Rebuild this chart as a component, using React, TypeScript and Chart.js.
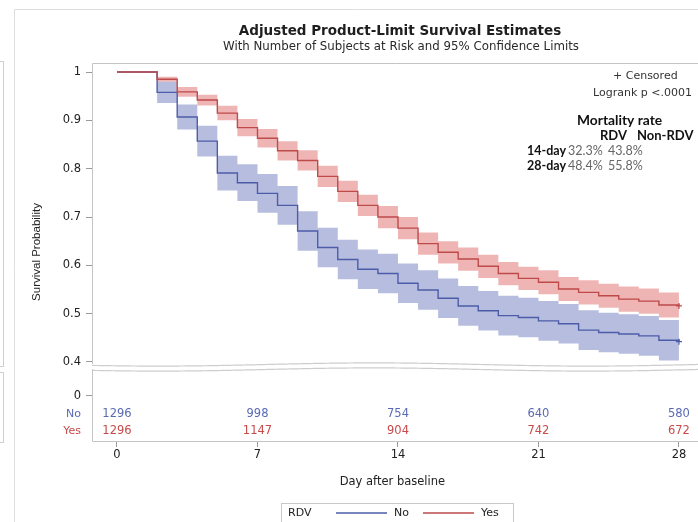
import React, { useEffect, useRef } from 'react';
import { Chart, registerables } from 'chart.js';

Chart.register(...registerables);

// ---------- data ----------
const days = [0, 1, 2, 3, 4, 5, 6, 7, 8, 9, 10, 11, 12, 13, 14, 15, 16, 17, 18, 19, 20, 21, 22, 23, 24, 25, 26, 27, 28];

// RDV = Yes (red)
const survYes = [1, 1, 0.985, 0.959, 0.942, 0.915, 0.885, 0.863, 0.837, 0.817, 0.784, 0.753, 0.724, 0.7, 0.677, 0.645, 0.627, 0.613, 0.598, 0.583, 0.573, 0.565, 0.551, 0.544, 0.537, 0.53, 0.526, 0.518, 0.516];
const lowerYes = [1, 1, 0.98, 0.949, 0.931, 0.9, 0.867, 0.844, 0.817, 0.796, 0.762, 0.731, 0.702, 0.677, 0.654, 0.622, 0.604, 0.589, 0.574, 0.559, 0.549, 0.54, 0.526, 0.519, 0.512, 0.504, 0.5, 0.492, 0.49];
const upperYes = [1, 1, 0.99, 0.969, 0.953, 0.93, 0.903, 0.882, 0.857, 0.838, 0.806, 0.775, 0.746, 0.723, 0.7, 0.668, 0.65, 0.637, 0.622, 0.607, 0.597, 0.59, 0.576, 0.569, 0.562, 0.556, 0.552, 0.544, 0.542];

// RDV = No (blue)
const survNo = [1, 1, 0.958, 0.907, 0.857, 0.791, 0.771, 0.749, 0.724, 0.671, 0.637, 0.612, 0.592, 0.583, 0.563, 0.549, 0.532, 0.516, 0.506, 0.496, 0.492, 0.485, 0.479, 0.466, 0.461, 0.458, 0.454, 0.445, 0.442];
const lowerNo = [1, 1, 0.936, 0.881, 0.825, 0.755, 0.733, 0.709, 0.684, 0.63, 0.596, 0.571, 0.551, 0.542, 0.522, 0.508, 0.491, 0.475, 0.465, 0.455, 0.451, 0.444, 0.438, 0.425, 0.42, 0.417, 0.413, 0.403, 0.4];
const upperNo = [1, 1, 0.98, 0.933, 0.889, 0.827, 0.809, 0.789, 0.764, 0.712, 0.678, 0.653, 0.633, 0.624, 0.604, 0.59, 0.573, 0.557, 0.547, 0.537, 0.533, 0.526, 0.52, 0.507, 0.502, 0.499, 0.495, 0.487, 0.484];

const xTickValues = [0, 7, 14, 21, 28];
const yTickValues = [0.4, 0.5, 0.6, 0.7, 0.8, 0.9, 1];

const riskTimes = [0, 7, 14, 21, 28];
const riskNo = [1296, 998, 754, 640, 580];
const riskYes = [1296, 1147, 904, 742, 672];

const mortalityLabels = ['14-day', '28-day'];
const mortalityRdv = ['32.3%', '48.4%'];
const mortalityNonRdv = ['43.8%', '55.8%'];

// ---------- layout / style ----------
const W = 698;
const H = 522;
const PLOT_LEFT = 92;
const PLOT_TOP = 63;
const UPPER_BOTTOM = 364;
const LOWER_TOP = 369;
const PLOT_BOTTOM = 441;
const X_MIN = -1.245;
const X_MAX = 28.69;
const Y_MIN = 0.2365;
const Y_MAX = 1.0187;
const ZERO_TICK = 0.33; // position of the "0" tick in the broken lower panel

const BLUE_LINE = '#4d5ca8';
const RED_LINE = '#be4a4a';
const BLUE_BAND = 'rgba(88,102,180,0.43)';
const RED_BAND = 'rgba(215,70,70,0.4)';
const BLUE_TEXT = '#5a6ab4';
const RED_TEXT = '#c84a4a';
const FRAME = '#c4c4c4';
const SANS = '"DejaVu Sans", sans-serif';

const pts = (vals: number[]) => days.map((d, i) => ({ x: d, y: vals[i] }));

function txt(ctx: CanvasRenderingContext2D, s: string, x: number, y: number, font: string, color: string, align: CanvasTextAlign = 'left') {
  ctx.font = font;
  ctx.fillStyle = color;
  ctx.textAlign = align;
  ctx.textBaseline = 'middle';
  ctx.fillText(s, x, y);
}

function wavy(ctx: CanvasRenderingContext2D, x0: number, x1: number, base: number) {
  ctx.beginPath();
  for (let x = x0; x <= x1; x += 2) {
    const y = base + 1.6 * Math.sin(((x - x0) / 430) * Math.PI * 2 + 0.6);
    if (x === x0) ctx.moveTo(x, y);
    else ctx.lineTo(x, y);
  }
  ctx.stroke();
}

const decorPlugin = {
  id: 'decor',
  beforeDraw(chart: any) {
    const ctx: CanvasRenderingContext2D = chart.ctx;
    ctx.save();
    // surrounding screenshot frame
    ctx.strokeStyle = '#dedede';
    ctx.lineWidth = 1;
    ctx.beginPath();
    ctx.moveTo(14.5, H);
    ctx.lineTo(14.5, 9.5);
    ctx.lineTo(W, 9.5);
    ctx.stroke();
    ctx.strokeStyle = '#cfcfcf';
    ctx.strokeRect(-6, 61.5, 9.5, 305);
    ctx.strokeRect(-6, 372.5, 9.5, 70);
    ctx.restore();
  },
  afterDraw(chart: any) {
    const ctx: CanvasRenderingContext2D = chart.ctx;
    const xs = chart.scales.x;
    ctx.save();

    // titles
    txt(ctx, 'Adjusted Product-Limit Survival Estimates', 400, 31, `bold 13.5px ${SANS}`, '#1e1e1e', 'center');
    txt(ctx, 'With Number of Subjects at Risk and 95% Confidence Limits', 401, 46.5, `11.8px ${SANS}`, '#2a2a2a', 'center');

    // frames
    ctx.strokeStyle = FRAME;
    ctx.lineWidth = 1;
    ctx.beginPath();
    ctx.moveTo(PLOT_LEFT + 0.5, UPPER_BOTTOM);
    ctx.lineTo(PLOT_LEFT + 0.5, PLOT_TOP + 0.5);
    ctx.lineTo(W, PLOT_TOP + 0.5);
    ctx.moveTo(PLOT_LEFT + 0.5, LOWER_TOP);
    ctx.lineTo(PLOT_LEFT + 0.5, PLOT_BOTTOM + 0.5);
    ctx.lineTo(W, PLOT_BOTTOM + 0.5);
    ctx.stroke();
    ctx.strokeStyle = '#cdcdcd';
    ctx.lineWidth = 1.2;
    wavy(ctx, PLOT_LEFT, W, UPPER_BOTTOM + 0.5);
    wavy(ctx, PLOT_LEFT, W, LOWER_TOP + 0.5);

    // risk table
    txt(ctx, 'No', 81, 414, `11px ${SANS}`, BLUE_TEXT, 'right');
    txt(ctx, 'Yes', 81, 431, `11px ${SANS}`, RED_TEXT, 'right');
    riskTimes.forEach((t, i) => {
      const px = xs.getPixelForValue(t);
      txt(ctx, String(riskNo[i]), px, 414, `11.5px ${SANS}`, BLUE_TEXT, 'center');
      txt(ctx, String(riskYes[i]), px, 431, `11.5px ${SANS}`, RED_TEXT, 'center');
    });

    // annotations
    txt(ctx, '+ Censored', 613, 76, `11px ${SANS}`, '#333', 'left');
    txt(ctx, 'Logrank p <.0001', 593, 93, `11px ${SANS}`, '#333', 'left');
    const LB = 'bold 12.5px Lato, sans-serif';
    const LR = '12.5px Lato, sans-serif';
    txt(ctx, 'Mortality rate', 577, 121, 'bold 13.8px Lato, sans-serif', '#111');
    txt(ctx, 'RDV', 600, 136, 'bold 13px Lato, sans-serif', '#111');
    txt(ctx, 'Non-RDV', 637, 136, 'bold 13px Lato, sans-serif', '#111');
    mortalityLabels.forEach((lab, i) => {
      const y = 151 + i * 15;
      txt(ctx, lab, 527, y, LB, '#111');
      txt(ctx, mortalityRdv[i], 568, y, LR, '#666');
      txt(ctx, mortalityNonRdv[i], 608, y, LR, '#666');
    });

    // legend
    ctx.strokeStyle = '#c8c8c8';
    ctx.lineWidth = 1;
    ctx.strokeRect(281.5, 503.5, 232, 30);
    txt(ctx, 'RDV', 288, 513, `11px ${SANS}`, '#222');
    ctx.lineWidth = 1.4;
    ctx.strokeStyle = BLUE_LINE;
    ctx.beginPath();
    ctx.moveTo(336, 513);
    ctx.lineTo(387, 513);
    ctx.stroke();
    txt(ctx, 'No', 394, 513, `11px ${SANS}`, '#222');
    ctx.strokeStyle = RED_LINE;
    ctx.beginPath();
    ctx.moveTo(423, 513);
    ctx.lineTo(474, 513);
    ctx.stroke();
    txt(ctx, 'Yes', 481, 513, `11px ${SANS}`, '#222');

    ctx.restore();
  },
};

const lastIdx = days.length - 1;

export default function App() {
  const ref = useRef<HTMLCanvasElement | null>(null);
  useEffect(() => {
    if (!ref.current) return;
    const tickFont = { family: '"DejaVu Sans", sans-serif', size: 11.5 };
    const chart = new Chart(ref.current, {
      type: 'line',
      data: {
        datasets: [
          {
            label: 'Yes',
            data: pts(survYes),
            borderColor: RED_LINE,
            borderWidth: 1.4,
            stepped: 'before',
            fill: false,
            pointRadius: (c: any) => (c.dataIndex === lastIdx ? 3 : 0),
            pointStyle: 'cross',
            pointBorderColor: RED_LINE,
            pointBorderWidth: 1.2,
          },
          {
            label: 'No',
            data: pts(survNo),
            borderColor: BLUE_LINE,
            borderWidth: 1.4,
            stepped: 'before',
            fill: false,
            pointRadius: (c: any) => (c.dataIndex === lastIdx ? 3 : 0),
            pointStyle: 'cross',
            pointBorderColor: BLUE_LINE,
            pointBorderWidth: 1.2,
          },
          {
            label: 'Yes upper',
            data: pts(upperYes),
            borderColor: 'transparent',
            borderWidth: 0,
            pointRadius: 0,
            stepped: 'before',
            fill: '+1',
            backgroundColor: RED_BAND,
          },
          {
            label: 'Yes lower',
            data: pts(lowerYes),
            borderColor: 'transparent',
            borderWidth: 0,
            pointRadius: 0,
            stepped: 'before',
            fill: false,
          },
          {
            label: 'No upper',
            data: pts(upperNo),
            borderColor: 'transparent',
            borderWidth: 0,
            pointRadius: 0,
            stepped: 'before',
            fill: '+1',
            backgroundColor: BLUE_BAND,
          },
          {
            label: 'No lower',
            data: pts(lowerNo),
            borderColor: 'transparent',
            borderWidth: 0,
            pointRadius: 0,
            stepped: 'before',
            fill: false,
          },
        ],
      },
      options: {
        responsive: false,
        animation: false,
        devicePixelRatio: 1,
        layout: { padding: { top: PLOT_TOP, left: 0, right: 0, bottom: 0 } },
        plugins: {
          legend: { display: false },
          tooltip: { enabled: false },
          title: { display: false },
        },
        scales: {
          x: {
            type: 'linear',
            min: X_MIN,
            max: X_MAX,
            afterBuildTicks: (s: any) => {
              s.ticks = xTickValues.map((v) => ({ value: v }));
            },
            afterFit: (s: any) => {
              s.height = H - PLOT_BOTTOM;
              s.paddingLeft = 0;
              s.paddingRight = 0;
            },
            ticks: {
              font: tickFont,
              color: '#222',
              padding: 1,
              maxRotation: 0,
              autoSkip: false,
              callback: (v: any) => String(v),
            },
            grid: { display: true, drawOnChartArea: false, drawTicks: true, tickLength: 6, color: '#9a9a9a' },
            border: { display: false },
            title: {
              display: true,
              text: 'Day after baseline',
              font: { family: '"DejaVu Sans", sans-serif', size: 11.5 },
              color: '#222',
              padding: { top: 0, bottom: 33 },
            },
          },
          y: {
            type: 'linear',
            min: Y_MIN,
            max: Y_MAX,
            afterBuildTicks: (s: any) => {
              s.ticks = [ZERO_TICK, ...yTickValues].map((v) => ({ value: v }));
            },
            afterFit: (s: any) => {
              s.width = PLOT_LEFT;
              s.paddingTop = 0;
              s.paddingBottom = 0;
            },
            ticks: {
              font: tickFont,
              color: '#222',
              padding: 5,
              autoSkip: false,
              callback: (v: any) => (v < 0.35 ? '0' : String(v)),
            },
            grid: { display: true, drawOnChartArea: false, drawTicks: true, tickLength: 6, color: '#9a9a9a' },
            border: { display: false },
            title: {
              display: true,
              text: 'Survival Probability',
              font: { family: '"Liberation Sans", Arial, sans-serif', size: 11.5 },
              color: '#222',
              padding: { top: 30, bottom: 0 },
            },
          },
        },
      },
      plugins: [decorPlugin],
    } as any);
    return () => chart.destroy();
  }, []);

  return (
    <div style={{ position: 'absolute', left: 0, top: 0, width: W, height: H, background: '#fff' }}>
      <canvas ref={ref} width={W} height={H} style={{ display: 'block' }} />
    </div>
  );
}
